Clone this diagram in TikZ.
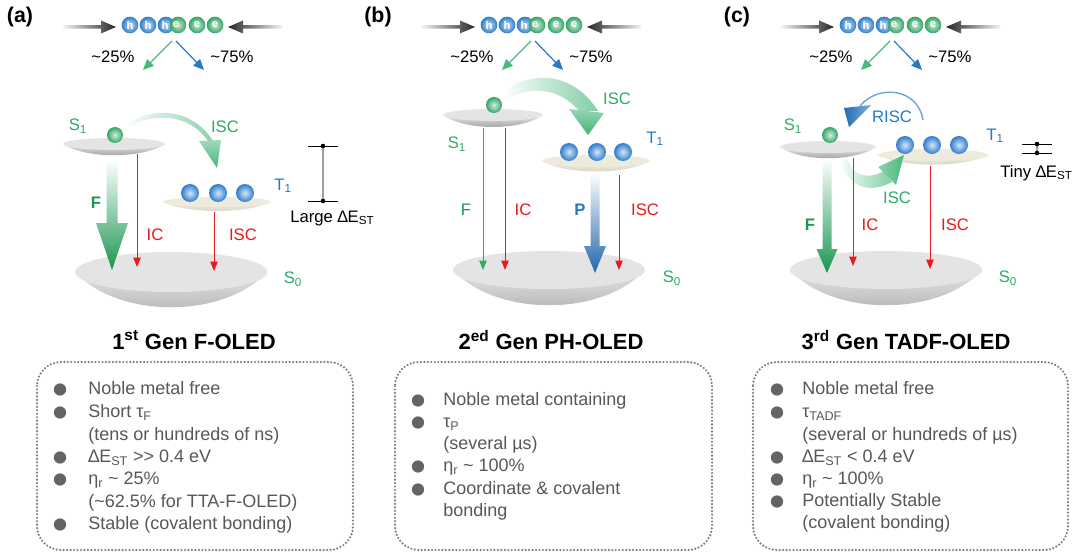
\documentclass[tikz,border=0pt]{standalone}
\usepackage{fontspec}
\setmainfont{Liberation Sans}
\usetikzlibrary{arrows.meta}
\definecolor{sg}{RGB}{45,172,105}
\definecolor{sgd}{RGB}{25,150,80}
\definecolor{tb}{RGB}{40,120,200}
\definecolor{rd}{RGB}{235,25,25}
\definecolor{txtg}{RGB}{88,88,88}
\definecolor{bulg}{RGB}{100,100,100}
\definecolor{dotg}{RGB}{125,125,125}
\definecolor{diskt}{RGB}{228,228,228}
\definecolor{diskb}{RGB}{175,175,175}
\definecolor{creamt}{RGB}{238,234,220}
\definecolor{creamb}{RGB}{215,212,200}
\definecolor{ballg}{RGB}{50,165,100}
\definecolor{ballb}{RGB}{45,125,205}

% disk: cx cy a b depth topcolor bottomcolor
\newcommand{\disk}[7]{%
  \path[top color=#6, bottom color=#7]
    ({#1-#3},#2) .. controls ({#1-0.55*#3},{#2+#5}) and ({#1+0.55*#3},{#2+#5}) .. ({#1+#3},#2) -- cycle;
  \path[fill=#6] (#1,#2) ellipse [x radius=#3, y radius=#4];
}
% vertical fat arrow: x y1 y2 shaftw headw headl topcolor bottomcolor
\newcommand{\vfat}[8]{%
  \path[top color=#7, bottom color=#8]
   ({#1-#4/2},#2) -- ({#1+#4/2},#2) -- ({#1+#4/2},{#3-#6}) -- ({#1+#5/2},{#3-#6}) -- (#1,#3)
   -- ({#1-#5/2},{#3-#6}) -- ({#1-#4/2},{#3-#6}) -- cycle;
}
% horizontal fat arrow: y xtail xtip shaftw headw headl leftcolor rightcolor
\newcommand{\hfat}[8]{%
  \path[left color=#7, right color=#8]
   (#2,{#1-#4/2}) -- ({#3-(#6)},{#1-#4/2}) -- ({#3-(#6)},{#1-#5/2}) -- (#3,#1)
   -- ({#3-(#6)},{#1+#5/2}) -- ({#3-(#6)},{#1+#4/2}) -- (#2,{#1+#4/2}) -- cycle;
}
\tikzset{
  lbl/.style={font=\fontsize{12.5}{14}\selectfont, inner sep=0pt},
  boldlbl/.style={font=\bfseries\fontsize{12.5}{14}\selectfont, inner sep=0pt},
  panel/.style={font=\bfseries\fontsize{16}{18}\selectfont, inner sep=0pt},
  gtitle/.style={font=\bfseries\fontsize{16.5}{19}\selectfont, inner sep=0pt},
  btxt/.style={font=\fontsize{13.5}{16}\selectfont, text=txtg, anchor=west, inner sep=0pt, text height=1.6ex, text depth=0.4ex},
  dotbox/.style={draw=dotg, line width=1.8pt, dash pattern=on 0pt off 2.6pt, line cap=round, rounded corners=18pt},
  thinarrow/.style={line width=0.9pt, -{Triangle[length=8pt,width=7pt]}},
  redarrow/.style={rd, line width=0.75pt, -{Triangle[length=7pt,width=5.5pt]}},
  grnarrow/.style={sg, line width=0.75pt, -{Triangle[length=7pt,width=5.5pt]}},
  hb/.style={circle, inner sep=0pt, minimum size=12.5pt, inner color=ballb!25!white, outer color=ballb},
  eb/.style={circle, inner sep=0pt, minimum size=12.5pt, inner color=ballg!25!white, outer color=ballg},
  letter/.style={text=white, font=\bfseries\fontsize{8.5}{9}\selectfont, inner sep=0pt},
  gball/.style={circle, inner sep=0pt, minimum size=12pt, inner color=ballg!20!white, outer color=ballg},
  bball/.style={circle, inner sep=0pt, minimum size=13.5pt, inner color=ballb!20!white, outer color=ballb},
  bul/.style={fill=bulg}
}
\newcommand{\toprow}[2]{%
\begin{scope}[shift={(#1,0)}]
 \hfat{27}{63}{116}{3.5}{13}{15}{gray!10}{black!85}
 \hfat{27}{282}{228}{3.5}{13}{-15}{black!85}{gray!10}
 \node[hb] (#2h1) at (130,25) {};
 \node[hb] (#2h2) at (148,25) {};
 \node[hb] (#2h3) at (166,25) {};
 \node[eb] (#2e1) at (178,25) {};
 \node[eb] (#2e2) at (197,25) {};
 \node[eb] (#2e3) at (215,25) {};
 \node[letter] (#2l1) at (130,25) {h};
 \node[letter] (#2l2) at (148,25) {h};
 \node[letter] (#2l3) at (165,25) {h};
 \node[letter] (#2l4) at (176,25) {e};
 \node[letter] (#2l5) at (197,25) {e};
 \node[letter] (#2l6) at (215,25) {e};
 \coordinate (#2sg) at (172,41);
 \coordinate (#2sb) at (176,41);
 \coordinate (#2g) at (143,70);
 \coordinate (#2b) at (204,70);
 \draw[thinarrow, sg!85] (#2sg) -- (#2g);
 \draw[thinarrow, tb] (#2sb) -- (#2b);
 \node[lbl] (#2p25) at (113,57) {\textasciitilde25\%};
 \node[lbl] (#2p75) at (232,57) {\textasciitilde75\%};
\end{scope}}
\newcommand{\bitem}[5]{% name bulletx textx y text
  \fill[bul] (#2,{#4-0.5}) circle (4.6pt);
  \node[btxt] (#1) at (#3,#4) {#5};
}
\newcommand{\bcont}[4]{% name textx y text
  \node[btxt] (#1) at (#2,#3) {#4};
}
\begin{document}
\begin{tikzpicture}[x=0.75pt,y=-0.75pt]
\useasboundingbox (0,0) rectangle (1080,556);
\fill[white] (0,0) rectangle (1080,556);

% panel labels
\node[panel] (pa) at (20,17) {(a)};
\node[panel] (pb) at (378,17) {(b)};
\node[panel] (pc) at (737,17) {(c)};

\toprow{0}{A}
\toprow{359}{B}
\toprow{718}{C}

% ================= panel (a) =================
\disk{171}{272}{96}{20}{47}{diskt}{diskb}
\disk{114}{144}{51}{6}{15}{diskt}{diskb!85!black}
\disk{217}{202}{54}{5}{12}{creamt}{creamb}
\node[gball] (aG) at (115,135) {};
\node[bball] (aB1) at (190,193) {};
\node[bball] (aB2) at (218,193) {};
\node[bball] (aB3) at (245,193) {};
% ISC curved arrow
\path[left color=sg!3, right color=sg!55]
  (128,124) .. controls (150,107) and (192,107) .. (213,141)
  -- (208,141) .. controls (190,115) and (158,112) .. (130,126) -- cycle;
\path[top color=sg!45, bottom color=sg!90] (199,141) -- (221,140) -- (217,168) -- cycle;
\coordinate (aIC1) at (137,154);
\coordinate (aIC2) at (137,267);
\coordinate (aIS1) at (214,212);
\coordinate (aIS2) at (214,271);
\vfat{112}{163}{270}{11}{32}{47}{sg!3}{sgd}
\draw[redarrow] (aIC1) -- (aIC2);
\draw[redarrow] (aIS1) -- (aIS2);
\node[lbl, text=sg] (aS1) at (78,126) {S\textsubscript{1}};
\node[lbl, text=tb] (aT1) at (283,186) {T\textsubscript{1}};
\node[lbl, text=sg] (aS0) at (293,279) {S\textsubscript{0}};
\node[lbl, text=sg] (aISC) at (225,127) {ISC};
\node[boldlbl, text=sgd] (aF) at (96,203) {F};
\node[lbl, text=rd] (aIC) at (155,235) {IC};
\node[lbl, text=rd] (aISCr) at (243,235) {ISC};
% Large Delta E
\coordinate (aL1) at (323,146);
\coordinate (aL2) at (323,201);
\draw[gray!75, line width=1.3pt] (aL1) -- (aL2);
\draw[black, line width=0.7pt] (308,146) -- (338,146);
\draw[black, line width=0.7pt] (308,201) -- (338,201);
\fill (aL1) circle (2.3);
\fill (aL2) circle (2.3);
\node[lbl, anchor=west] (aLarge) at (290,218) {Large ∆E\textsubscript{ST}};

% title + box (a)
\node[gtitle] (ta) at (194,340) {1\textsuperscript{st} Gen F-OLED};
\draw[dotbox] (37,362) rectangle (353,550);
\bitem{a1}{60}{88}{390}{Noble metal free}
\bitem{a2}{60}{88}{413}{Short τ\textsubscript{F}}
\bcont{a3}{88}{436}{(tens or hundreds of ns)}
\bitem{a4}{60}{88}{458}{∆E\textsubscript{ST} >\kern0pt> 0.4 eV}
\bitem{a5}{60}{88}{480}{η\textsubscript{r} \textasciitilde{} 25\%}
\bcont{a6}{88}{503}{(\textasciitilde62.5\% for TTA-F-OLED)}
\bitem{a7}{60}{88}{525}{Stable (covalent bonding)}

% ================= panel (b) =================
\disk{549}{270}{96}{19}{47}{diskt}{diskb}
\disk{493}{115}{50}{6}{16}{diskt}{diskb!85!black}
\disk{596}{161}{54}{6}{14}{creamt}{creamb}
\node[gball] (bG) at (494,105) {};
\node[bball] (bB1) at (569,152) {};
\node[bball] (bB2) at (597,152) {};
\node[bball] (bB3) at (623,152) {};
\path[left color=sg!3, right color=sg!60]
  (506,90) .. controls (530,72) and (572,70) .. (598,111)
  -- (579,111) .. controls (560,88) and (532,86) .. (509,98) -- cycle;
\path[top color=sg!50, bottom color=sg!90] (569,109) -- (604,113) -- (588,135) -- cycle;
\coordinate (bF1) at (483,128);
\coordinate (bF2) at (483,270);
\coordinate (bIC1) at (505,128);
\coordinate (bIC2) at (505,270);
\coordinate (bIS1) at (619,175);
\coordinate (bIS2) at (619,270);
\draw[grnarrow] (bF1) -- (bF2);
\draw[redarrow] (bIC1) -- (bIC2);
\vfat{595}{175}{273}{9}{22}{27}{tb!3}{tb!85!black}
\draw[redarrow] (bIS1) -- (bIS2);
\node[lbl, text=sg] (bS1) at (457,144) {S\textsubscript{1}};
\node[lbl, text=tb] (bT1) at (655,139) {T\textsubscript{1}};
\node[lbl, text=sg] (bS0) at (672,278) {S\textsubscript{0}};
\node[lbl, text=sg] (bISC) at (617,99) {ISC};
\node[lbl, text=sgd] (bF) at (466,210) {F};
\node[lbl, text=rd] (bIC) at (523,210) {IC};
\node[boldlbl, text=tb] (bP) at (580,210) {P};
\node[lbl, text=rd] (bISCr) at (645,210) {ISC};

\node[gtitle] (tb) at (551,340) {2\textsuperscript{ed} Gen PH-OLED};
\draw[dotbox] (395,362) rectangle (712,550);
\bitem{b1}{418}{443}{401}{Noble metal containing}
\bitem{b2}{418}{443}{423}{τ\textsubscript{P}}
\bcont{b3}{443}{445}{(several µs)}
\bitem{b4}{418}{443}{467}{η\textsubscript{r} \textasciitilde{} 100\%}
\bitem{b5}{418}{443}{490}{Coordinate \& covalent}
\bcont{b6}{443}{512}{bonding}

% ================= panel (c) =================
\disk{886}{270}{96}{19}{47}{diskt}{diskb}
\disk{828}{147}{48}{6}{15}{diskt}{diskb!85!black}
\disk{933}{155}{55}{6}{13}{creamt}{creamb}
\node[gball] (cG) at (830,135) {};
\node[bball] (cB1) at (905,145) {};
\node[bball] (cB2) at (932,145) {};
\node[bball] (cB3) at (959,145) {};
% RISC
\draw[tb!70, line width=1pt] (923,120) .. controls (918,88) and (878,84) .. (860,106);
\path[left color=tb!90!black, right color=tb!60] (844,108) -- (871,105) -- (849,127) -- cycle;
% ISC green curved
\path[left color=sg!3, right color=sg!60]
  (840,160) .. controls (848,188) and (870,194) .. (892,182)
  -- (884,171) .. controls (868,180) and (852,176) .. (848,160) -- cycle;
\path[left color=sg!55, right color=sg!85] (878,167) -- (904,155) -- (896,185) -- cycle;
\coordinate (cIC1) at (853,158);
\coordinate (cIC2) at (853,266);
\coordinate (cIS1) at (930,166);
\coordinate (cIS2) at (930,269);
\vfat{827}{161}{273}{9}{21}{24}{sg!3}{sgd}
\draw[redarrow] (cIC1) -- (cIC2);
\draw[redarrow] (cIS1) -- (cIS2);
\node[lbl, text=sg] (cS1) at (793,126) {S\textsubscript{1}};
\node[lbl, text=tb] (cT1) at (995,136) {T\textsubscript{1}};
\node[lbl, text=sg] (cS0) at (1008,278) {S\textsubscript{0}};
\node[lbl, text=tb] (cRISC) at (892,117) {RISC};
\node[lbl, text=sg] (cISC) at (897,198) {ISC};
\node[boldlbl, text=sgd] (cF) at (810,225) {F};
\node[lbl, text=rd] (cIC) at (870,225) {IC};
\node[lbl, text=rd] (cISCr) at (955,225) {ISC};
% Tiny Delta E
\coordinate (cT1a) at (1037,144);
\coordinate (cT1b) at (1037,153);
\draw[gray!75, line width=1.2pt] (cT1a) -- (cT1b);
\draw[black, line width=0.7pt] (1022,144) -- (1052,144);
\draw[black, line width=0.7pt] (1022,153) -- (1052,153);
\fill (cT1a) circle (2.3);
\fill (cT1b) circle (2.3);
\node[lbl, anchor=west] (cTiny) at (1000,173) {Tiny ∆E\textsubscript{ST}};

\node[gtitle] (tc) at (906,340) {3\textsuperscript{rd} Gen TADF-OLED};
\draw[dotbox] (753,362) rectangle (1068,550);
\bitem{c1}{777}{802}{390}{Noble metal free}
\bitem{c2}{777}{802}{413}{τ\textsubscript{TADF}}
\bcont{c3}{802}{436}{(several or hundreds of µs)}
\bitem{c4}{777}{802}{458}{∆E\textsubscript{ST} < 0.4 eV}
\bitem{c5}{777}{802}{480}{η\textsubscript{r} \textasciitilde{} 100\%}
\bitem{c6}{777}{802}{502}{Potentially Stable}
\bcont{c7}{802}{524}{(covalent bonding)}
\end{tikzpicture}
\end{document}
